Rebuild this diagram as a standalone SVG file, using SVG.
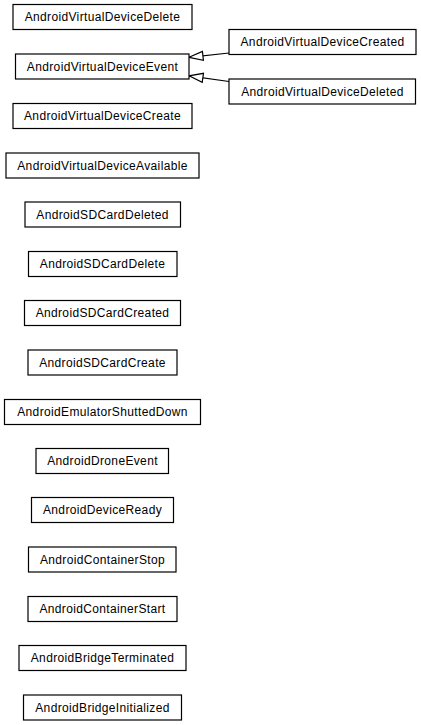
<svg xmlns="http://www.w3.org/2000/svg" width="421" height="725" viewBox="0 0 421 725">
<style>
rect.n{fill:#fff;stroke:#000;stroke-width:1.2}
text{font-family:"Liberation Sans",Arial,sans-serif;font-size:12px;letter-spacing:0.35px;text-anchor:middle;fill:#000}
.e{fill:none;stroke:#000;stroke-width:1.2}
</style>
<defs>
<marker id="tri" markerWidth="16" markerHeight="12" refX="15" refY="6" orient="auto" markerUnits="userSpaceOnUse">
<path d="M15,6 L1,1.5 L1,10.5 Z" fill="#fff" stroke="#000" stroke-width="1.2"/>
</marker>
</defs>
<rect width="421" height="725" fill="#fff"/>
<g id="edges">
<path class="e" d="M229,53 L189,57.3" marker-end="url(#tri)"/>
<path class="e" d="M229,81.5 L189,75.8" marker-end="url(#tri)"/>
</g>
<g id="AndroidVirtualDeviceDelete"><rect class="n" x="13" y="4.5" width="179" height="25"/><text x="102.5" y="21.2">AndroidVirtualDeviceDelete</text></g>
<g id="AndroidVirtualDeviceCreated"><rect class="n" x="229" y="29.5" width="187" height="25"/><text x="322.5" y="46.2">AndroidVirtualDeviceCreated</text></g>
<g id="AndroidVirtualDeviceEvent"><rect class="n" x="15.5" y="54" width="173.5" height="25"/><text x="102.5" y="70.7">AndroidVirtualDeviceEvent</text></g>
<g id="AndroidVirtualDeviceDeleted"><rect class="n" x="229" y="79" width="186.5" height="25"/><text x="322.5" y="95.7">AndroidVirtualDeviceDeleted</text></g>
<g id="AndroidVirtualDeviceCreate"><rect class="n" x="13" y="103.5" width="179" height="25"/><text x="102.5" y="120.2">AndroidVirtualDeviceCreate</text></g>
<g id="AndroidVirtualDeviceAvailable"><rect class="n" x="6" y="153" width="193" height="25"/><text x="102.5" y="169.7">AndroidVirtualDeviceAvailable</text></g>
<g id="AndroidSDCardDeleted"><rect class="n" x="25" y="202" width="155.5" height="25"/><text x="102.5" y="218.7">AndroidSDCardDeleted</text></g>
<g id="AndroidSDCardDelete"><rect class="n" x="28.5" y="251.5" width="148.5" height="25"/><text x="102.5" y="268.2">AndroidSDCardDelete</text></g>
<g id="AndroidSDCardCreated"><rect class="n" x="24.5" y="300.5" width="156" height="25"/><text x="102.5" y="317.2">AndroidSDCardCreated</text></g>
<g id="AndroidSDCardCreate"><rect class="n" x="28" y="350" width="149" height="25"/><text x="102.5" y="366.7">AndroidSDCardCreate</text></g>
<g id="AndroidEmulatorShuttedDown"><rect class="n" x="4.5" y="399.5" width="196" height="25"/><text x="102.5" y="416.2">AndroidEmulatorShuttedDown</text></g>
<g id="AndroidDroneEvent"><rect class="n" x="36" y="448.5" width="132.5" height="25"/><text x="102.5" y="465.2">AndroidDroneEvent</text></g>
<g id="AndroidDeviceReady"><rect class="n" x="31.5" y="497.5" width="142" height="25"/><text x="102.5" y="514.2">AndroidDeviceReady</text></g>
<g id="AndroidContainerStop"><rect class="n" x="28.5" y="547" width="147.5" height="25"/><text x="102.5" y="563.7">AndroidContainerStop</text></g>
<g id="AndroidContainerStart"><rect class="n" x="28" y="596.5" width="149" height="25"/><text x="102.5" y="613.2">AndroidContainerStart</text></g>
<g id="AndroidBridgeTerminated"><rect class="n" x="19" y="645.5" width="167" height="25"/><text x="102.5" y="662.2">AndroidBridgeTerminated</text></g>
<g id="AndroidBridgeInitialized"><rect class="n" x="23.5" y="695" width="158" height="25"/><text x="102.5" y="711.7">AndroidBridgeInitialized</text></g>
</svg>
